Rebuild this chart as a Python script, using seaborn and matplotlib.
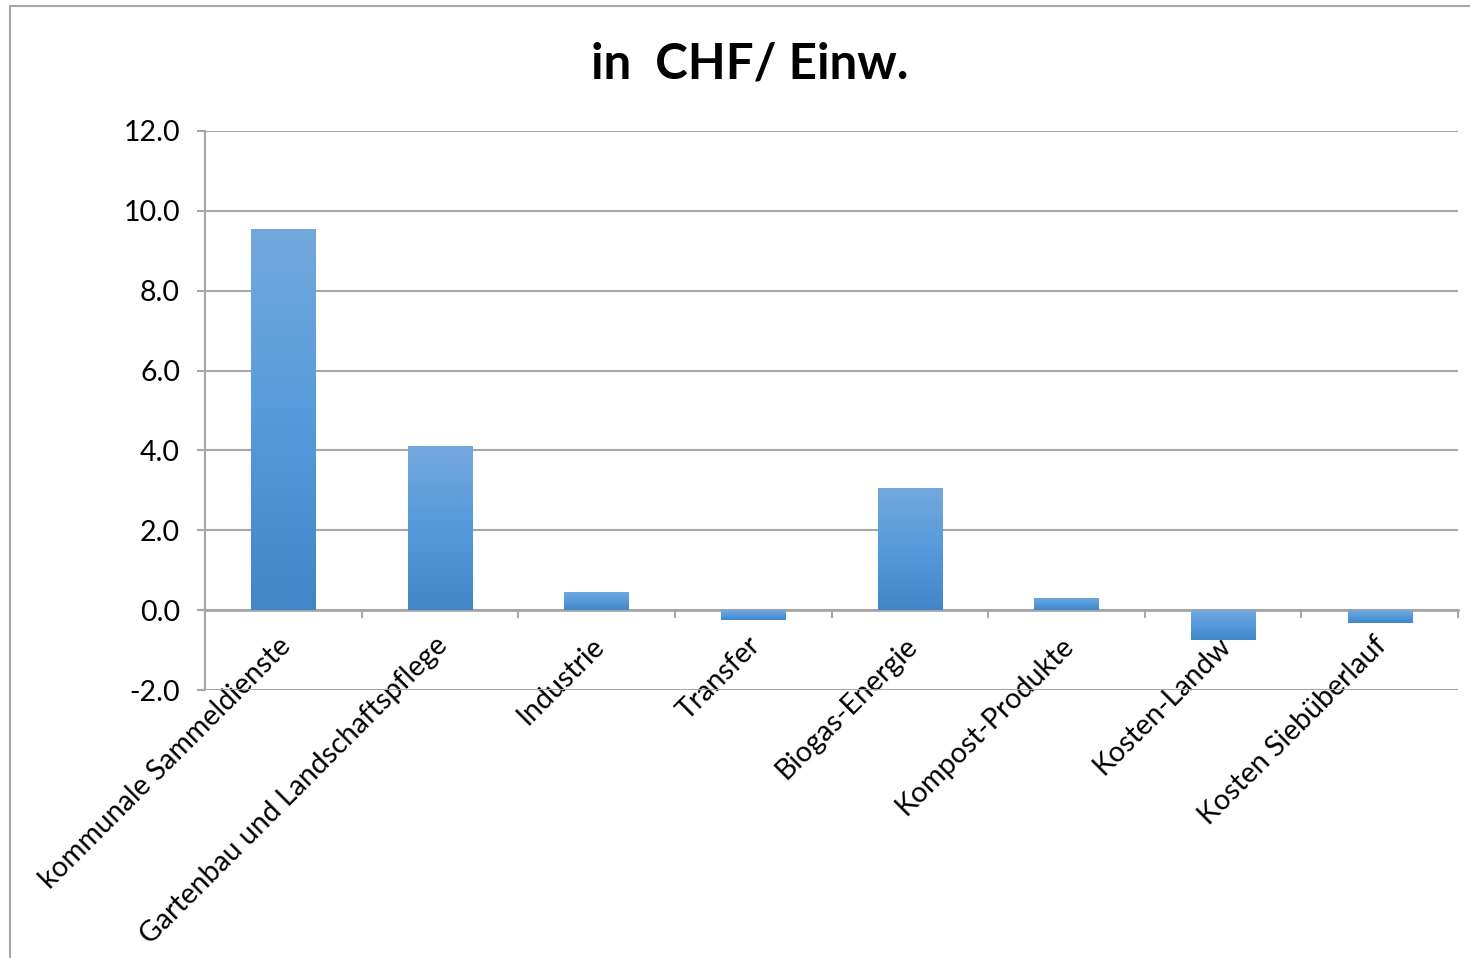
import numpy as np
import pandas as pd
import matplotlib
matplotlib.use("Agg")
import matplotlib.pyplot as plt
import matplotlib.patches as mpatches
import matplotlib.transforms as mtransforms
from matplotlib.colors import LinearSegmentedColormap
from matplotlib.ticker import FixedLocator, FormatStrFormatter
import seaborn as sns

# data
categories = ["kommunale Sammeldienste", "Gartenbau und Landschaftspflege", "Industrie",
              "Transfer", "Biogas-Energie", "Kompost-Produkte", "Kosten-Landw",
              "Kosten Siebüberlauf"]
values = [9.55, 4.12, 0.46, -0.24, 3.07, 0.31, -0.75, -0.31]
y_ticks = [-2.0, 0.0, 2.0, 4.0, 6.0, 8.0, 10.0, 12.0]
title = "in  CHF/ Einw."

df = pd.DataFrame({"cat": categories, "val": values})

sns.set_theme(style="white")
plt.rcParams["font.family"] = ["Lato", "DejaVu Sans"]
plt.rcParams["text.color"] = "black"
plt.rcParams["xtick.labelcolor"] = "black"
plt.rcParams["ytick.labelcolor"] = "black"

fig = plt.figure(figsize=(14.7, 9.58), dpi=100)
ax = fig.add_axes([0.1395, 0.2797, 0.8523, 0.5836])

sns.barplot(data=df, x="cat", y="val", color="#559BDC", width=0.41,
            saturation=1, ax=ax, zorder=3)

# vertical gradient on each bar, light at top, darker at bottom
grad = LinearSegmentedColormap.from_list("g", ["#4186C6", "#559BDC", "#74A8DC"])
gimg = np.linspace(0, 1, 256).reshape(-1, 1)
for p in ax.patches:
    x0, y0 = p.get_x(), p.get_y()
    w, h = p.get_width(), p.get_height()
    ylo, yhi = min(y0, y0 + h), max(y0, y0 + h)
    im = ax.imshow(gimg, cmap=grad, aspect="auto", origin="lower",
                   extent=[x0, x0 + w, ylo, yhi], zorder=4)
    im.set_clip_path(p)
    p.set_edgecolor("none")

ax.set_xlim(-0.5, len(categories) - 0.5)
ax.set_ylim(-2.0, 12.0)
ax.set_yticks(y_ticks)
ax.yaxis.set_major_formatter(FormatStrFormatter("%.1f"))
ax.grid(axis="y", color="#A6A6A6", linewidth=1.5, zorder=0)
ax.set_axisbelow(True)

# horizontal axis crosses at zero, labels sit right under it
ax.spines["bottom"].set_position(("data", 0))
ax.spines["bottom"].set_color("#A6A6A6")
ax.spines["bottom"].set_linewidth(2)
ax.spines["left"].set_color("#A6A6A6")
ax.spines["left"].set_linewidth(1.5)
ax.spines["top"].set_visible(False)
ax.spines["right"].set_visible(False)

ax.xaxis.set_major_locator(FixedLocator(np.arange(len(categories) + 1) - 0.5))
ax.xaxis.set_minor_locator(FixedLocator(np.arange(len(categories))))
ax.xaxis.set_major_formatter(plt.NullFormatter())
ax.set_xticklabels(categories, minor=True, rotation=45, ha="right",
                   va="top", rotation_mode="anchor", fontsize=20.5)
ax.tick_params(axis="x", which="major", direction="out", length=6, width=1.5,
               color="#A6A6A6", bottom=True)
ax.tick_params(axis="x", which="minor", length=0, pad=16)
ax.tick_params(axis="y", direction="out", length=6, width=1.5,
               color="#A6A6A6", left=True, labelsize=20.5, pad=12)
ax.set_xlabel("")
ax.set_ylabel("")

# nudge the category labels a little to the left
shift = mtransforms.ScaledTranslation(-6 / 100, 0, fig.dpi_scale_trans)
for lbl in ax.get_xticklabels(minor=True):
    lbl.set_transform(lbl.get_transform() + shift)

fig.text(0.51, 0.933, title, ha="center", va="center", fontsize=35.5,
         fontweight="bold")

# chart area border (left and top edges visible)
fig.add_artist(mpatches.Rectangle((10 / 1470, -0.1), 1.2, 1.1 - 6 / 958,
                                  transform=fig.transFigure, fill=False,
                                  edgecolor="#A6A6A6", linewidth=1.5))

fig.savefig("out.png", dpi=100, facecolor="white")
